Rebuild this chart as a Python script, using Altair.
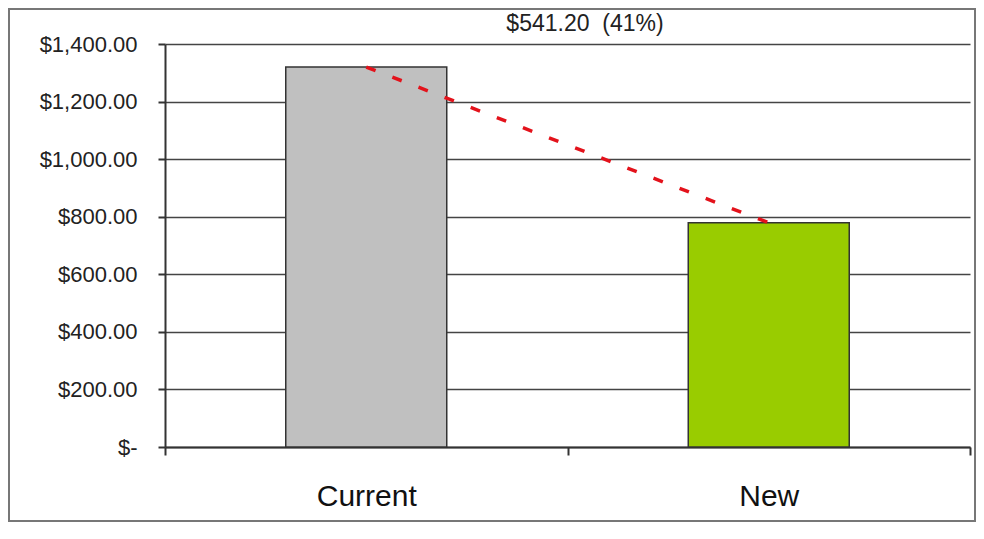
import altair as alt
import pandas as pd

categories = ["Current", "New"]
values = [1320.00, 778.80]
colors = ["#C0C0C0", "#99CC00"]
y_ticks = [0, 200, 400, 600, 800, 1000, 1200, 1400]

saving = values[0] - values[1]
pct = saving / values[0]
title_text = f"${saving:,.2f}\u00a0 ({pct:.0%})"

df = pd.DataFrame({"category": categories, "value": values, "color": colors})
frame_df = pd.DataFrame({"a": [0]})
label_df = pd.DataFrame({"label": [title_text]})

FONT = "Liberation Sans"

x = alt.X(
    "category:N",
    sort=categories,
    scale=alt.Scale(paddingInner=0, paddingOuter=0),
    axis=alt.Axis(
        title=None, labelAngle=0, labelFont=FONT, labelFontSize=30,
        labelColor="#111", labelPadding=26, tickBand="extent", tickSize=8,
        tickColor="#333", tickWidth=2, domainColor="#333", domainWidth=2,
    ),
)
y = alt.Y(
    "value:Q",
    scale=alt.Scale(domain=[0, 1400], nice=False),
    axis=alt.Axis(
        title=None, values=y_ticks,
        labelExpr="datum.value == 0 ? '$-\u00a0\u00a0\u00a0\u00a0' : '$' + format(datum.value, ',.2f')",
        labelFont=FONT, labelFontSize=22, labelColor="#222", labelPadding=21,
        tickSize=7, tickColor="#333", tickWidth=2,
        grid=True, gridColor="#444", gridWidth=1.5,
        domainColor="#333", domainWidth=2,
    ),
)

frame = alt.Chart(frame_df).mark_rect(filled=False, stroke="#777", strokeWidth=2).encode(
    x=alt.value(-156), x2=alt.value(810), y=alt.value(-35), y2=alt.value(477)
)

bars = alt.Chart(df).mark_bar(size=161, stroke="#333", strokeWidth=1.5).encode(
    x=x, y=y, color=alt.Color("color:N", scale=None)
)

line = alt.Chart(df).mark_line(
    color="#E3121B", strokeDash=[10, 18], strokeWidth=3.5
).encode(x=x, y=y)

label = alt.Chart(label_df).mark_text(
    font=FONT, fontSize=23, color="#222", baseline="alphabetic", align="center"
).encode(text="label:N", x=alt.value(420), y=alt.value(-13))

chart = alt.layer(frame, bars, line, label).properties(
    width=805,
    height=403,
    padding={"left": 157, "top": 36, "right": 6, "bottom": 76},
    autosize=alt.AutoSizeParams(type="none"),
).configure_view(stroke=None)

chart.save("out.html", embed_options={"renderer": "svg", "actions": False})
